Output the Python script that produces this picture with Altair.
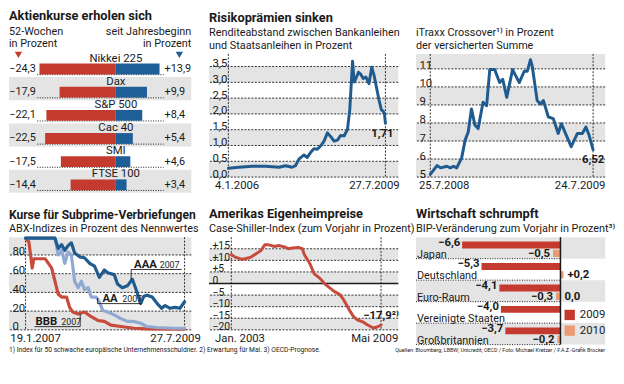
import altair as alt
import pandas as pd

FONT = "Roboto, Liberation Sans, sans-serif"
INK = "#1a1a1a"
GRAY = "#e4e4e4"
RED = "#c53a2e"
RED_LINE = "#c84a3c"
BLUE = "#1f5f98"
BLUE_LINE = "#1f5b8e"
LBLUE = "#8fa9d3"
ORANGE = "#ec9a73"
FS = 11.5

# ---------------- data ----------------
stock_names = ["Nikkei 225", "Dax", "S&P 500", "Cac 40", "SMI", "FTSE 100"]
stock_52w = [-24.3, -17.9, -22.1, -22.5, -17.5, -14.4]
stock_ytd = [13.9, 9.9, 8.4, 5.4, 4.6, 3.4]

spread_dates = ["2006-01-04", "2006-03-31", "2006-07-20", "2006-11-09", "2007-02-28", "2007-04-22",
                "2007-06-16", "2007-07-13", "2007-08-11", "2007-09-22", "2007-10-19", "2007-11-16",
                "2007-12-13", "2008-01-10", "2008-02-08", "2008-03-06", "2008-04-03", "2008-05-01",
                "2008-05-28", "2008-06-25", "2008-07-22", "2008-08-19", "2008-09-16", "2008-10-05",
                "2008-10-28", "2008-11-10", "2008-11-25", "2008-12-16", "2009-01-05", "2009-01-24",
                "2009-02-15", "2009-03-13", "2009-04-05", "2009-04-24", "2009-05-13", "2009-06-04",
                "2009-06-24", "2009-07-10", "2009-07-20", "2009-07-27"]
spread_vals = [0.28, 0.31, 0.34, 0.34, 0.31, 0.36, 0.31, 0.36, 0.57, 0.70, 0.62, 0.78, 0.90, 0.88,
               0.99, 1.14, 1.40, 1.28, 1.14, 1.17, 1.32, 1.30, 1.51, 2.13, 3.67, 3.01, 3.12, 3.32,
               3.25, 3.12, 3.17, 2.96, 3.48, 3.22, 2.86, 2.44, 2.13, 2.08, 1.97, 1.71]

itraxx_dates = ["2008-07-25", "2008-08-09", "2008-08-17", "2008-08-31", "2008-09-08", "2008-09-15",
                "2008-09-22", "2008-10-03", "2008-10-11", "2008-10-18", "2008-10-25", "2008-11-02",
                "2008-11-09", "2008-11-20", "2008-11-28", "2008-12-05", "2008-12-16", "2008-12-27",
                "2009-01-03", "2009-01-12", "2009-01-25", "2009-02-09", "2009-02-20", "2009-02-27",
                "2009-03-06", "2009-03-10", "2009-03-21", "2009-03-28", "2009-04-04", "2009-04-15",
                "2009-04-26", "2009-05-07", "2009-05-14", "2009-05-25", "2009-06-05", "2009-06-19",
                "2009-06-30", "2009-07-08", "2009-07-15", "2009-07-24"]
itraxx_vals = [5.15, 5.64, 5.51, 5.60, 5.51, 5.60, 5.51, 6.05, 7.05, 7.51, 8.78, 7.87, 7.69, 9.15,
               8.96, 10.96, 10.96, 10.24, 10.42, 9.42, 10.96, 10.24, 10.87, 10.87, 11.51, 11.15,
               9.24, 9.05, 9.24, 8.33, 8.24, 7.42, 7.96, 7.33, 6.69, 7.42, 7.42, 7.78, 7.33, 6.52]

aaa_dates = ["2007-01-19", "2007-07-08", "2007-07-27", "2007-08-16", "2007-09-03", "2007-09-22",
             "2007-10-11", "2007-10-30", "2007-11-28", "2007-12-26", "2008-01-25", "2008-02-22",
             "2008-03-21", "2008-04-19", "2008-05-08", "2008-06-15", "2008-07-04", "2008-08-01",
             "2008-08-30", "2008-09-28", "2008-10-16", "2008-11-15", "2008-12-04", "2008-12-22",
             "2009-01-21", "2009-02-19", "2009-03-17", "2009-04-06", "2009-05-04", "2009-06-02",
             "2009-06-30", "2009-07-27"]
aaa_vals = [98, 98, 87, 91, 85, 90, 93, 82, 78, 77, 71, 68, 56, 64, 61, 59, 49, 45, 47, 54, 45, 28,
            36, 37, 35, 28, 23, 26, 23, 24, 23, 30]
aa_dates = ["2007-01-19", "2007-07-08", "2007-07-27", "2007-08-16", "2007-09-03", "2007-09-22",
            "2007-10-11", "2007-10-30", "2007-11-19", "2007-12-08", "2007-12-26", "2008-01-16",
            "2008-02-03", "2008-03-03", "2008-03-21", "2008-04-09", "2008-05-08", "2008-06-15",
            "2008-07-23", "2008-08-30", "2008-10-07", "2008-11-15", "2008-12-22", "2009-02-19",
            "2009-05-24", "2009-07-27"]
aa_vals = [98, 98, 80, 85, 71, 83, 80, 52, 45, 52, 43, 45, 35, 35, 30, 21, 19, 16, 12, 9, 9, 7,
           3.5, 2.5, 1.7, 1.7]
bbb_dates = ["2007-01-19", "2007-02-07", "2007-02-17", "2007-02-26", "2007-03-08", "2007-04-04",
             "2007-05-12", "2007-05-31", "2007-06-19", "2007-07-08", "2007-07-27", "2007-08-16",
             "2007-09-13", "2007-10-01", "2007-10-20", "2007-11-19", "2007-12-26", "2008-02-03",
             "2008-03-12", "2008-04-19", "2008-05-27", "2008-07-23", "2008-10-07", "2008-12-22",
             "2009-07-27"]
bbb_vals = [98, 94, 80, 66, 76, 76, 76, 71, 66, 52, 38, 35, 35, 24, 19, 17, 19, 14, 10, 9, 5, 3.5,
            1.7, 1, 0.7]
abx_names = ["AAA", "AA", "BBB"]
abx_vintage = "2007"

cs_dates = ["2003-01-01", "2003-03-01", "2003-06-01", "2003-08-01", "2003-11-01", "2004-01-01",
            "2004-04-01", "2004-06-01", "2004-08-01", "2004-11-01", "2005-01-01", "2005-04-01",
            "2005-06-01", "2005-08-01", "2005-11-01", "2006-01-01", "2006-02-01", "2006-05-01",
            "2006-07-01", "2006-10-01", "2007-01-01", "2007-03-01", "2007-05-01", "2007-08-01",
            "2007-10-01", "2008-01-01", "2008-03-01", "2008-05-01", "2008-08-01", "2008-10-01",
            "2009-01-01", "2009-03-01", "2009-05-01"]
cs_vals = [12.5, 11.4, 10.5, 10.7, 11.4, 12.5, 14.2, 16.7, 16.7, 16.0, 16.4, 15.8, 15.0, 15.3,
           15.6, 15.0, 12.5, 8.4, 4.3, 2.2, -0.6, -1.9, -3.3, -4.7, -7.0, -11.6, -14.3, -15.7,
           -16.7, -17.8, -19.2, -18.8, -17.9]

countries = ["Japan", "Deutschland", "Euro-Raum", "Vereinigte Staaten", "Großbritannien"]
gdp_2009 = [-6.6, -5.3, -4.1, -4.0, -3.7]
gdp_2010 = [-0.5, 0.2, -0.3, 0.0, -0.2]
gdp_2010_label_row = ["Japan", "Deutschland", "Euro-Raum", "Euro-Raum", "Großbritannien"]
years = ["2009", "2010"]

foot_left = "1) Index für 50 schwache europäische Unternehmensschuldner. 2) Erwartung für Mai. 3) OECD-Prognose."
foot_right = "Quellen: Bloomberg; LBBW; Unicredit; OECD / Foto: Michael Kretzer / F.A.Z.-Grafik Brocker"

one = pd.DataFrame({"k": [0]})
FOOT_Y = 114.5


def de(v, plus=False, digits=1):
    s = f"{abs(v):.{digits}f}".replace(".", ",")
    if v < 0:
        return "\u2212" + s
    return ("+" + s) if (plus and v > 0) else s


def dt(s):
    t = pd.Timestamp(s)
    return alt.DateTime(year=t.year, month=t.month, date=t.day)


def ttl(text, sub=None, size=13):
    kw = dict(anchor="start", frame="group", font=FONT, fontSize=size, fontWeight="bold", color=INK,
              offset=3)
    if sub:
        kw.update(subtitle=sub, subtitleFont=FONT, subtitleFontSize=11, subtitleColor=INK,
                  subtitleLineHeight=12.5, subtitlePadding=2)
    return alt.TitleParams(text, **kw)


# ---------------- panel 1: stock indices ----------------
W1, H1 = 185, 141
X1 = [-34, 24]
L_LAB, R_LAB = -25, 15.2
sx1 = alt.Scale(domain=X1, nice=False, zero=False)


def XD1(v):
    return alt.XDatum(v, type="quantitative", scale=sx1, axis=None)


df1 = pd.DataFrame({"name": stock_names, "w52": stock_52w, "ytd": stock_ytd})
df1["t52"] = [de(v) for v in stock_52w]
df1["tytd"] = [de(v, plus=True) for v in stock_ytd]
df1["shade"] = [i % 2 == 1 for i in range(len(df1))]
y1 = alt.Y("name:N", sort=stock_names, scale=alt.Scale(paddingInner=0, paddingOuter=0), axis=None)
b1 = alt.Chart(df1).encode(y=y1)

p1 = alt.layer(
    b1.transform_filter("datum.shade").mark_rect(color=GRAY).encode(x=XD1(X1[0]), x2=alt.X2Datum(X1[1])),
    b1.mark_rule(color=INK, strokeDash=[1, 1.5], strokeWidth=1, yOffset=9.3).encode(
        x=XD1(L_LAB), x2=alt.X2Datum(R_LAB)),
    b1.mark_bar(color=RED, size=11, yOffset=3.6).encode(
        x=alt.X("w52:Q", scale=sx1, axis=None), x2=alt.X2Datum(0)),
    b1.mark_bar(color=BLUE, size=11, yOffset=3.6).encode(
        x=alt.X("ytd:Q", scale=sx1, axis=None), x2=alt.X2Datum(0)),
    b1.mark_text(fontSize=FS, dy=-7, color=INK).encode(x=XD1(0), text="name"),
    b1.mark_text(fontSize=11, align="right", dx=-1.5, dy=3.5, color=INK).encode(x=XD1(L_LAB), text="t52"),
    b1.mark_text(fontSize=11, align="left", dx=1, dy=3.5, color=INK).encode(x=XD1(R_LAB), text="tytd"),
    alt.Chart(one).mark_text(align="left", baseline="top", fontSize=11, lineHeight=12.5, color=INK).encode(
        x=XD1(X1[0]), y=alt.value(-28), text=alt.value(["52-Wochen", "in Prozent"])),
    alt.Chart(one).mark_text(align="right", baseline="top", fontSize=11, lineHeight=12.5, color=INK).encode(
        x=XD1(X1[1]), y=alt.value(-28), text=alt.value(["seit Jahresbeginn", "in Prozent"])),
    alt.Chart(pd.DataFrame({"x": [-31, 20.2], "c": [RED, BLUE]})).mark_point(
        shape="triangle-down", filled=True, size=55, opacity=1).encode(
        x=alt.X("x:Q", scale=sx1, axis=None), y=alt.value(1), color=alt.Color("c:N", scale=None)),
).properties(width=W1, height=H1, title=ttl("Aktienkurse erholen sich"))


# ---------------- line panels ----------------
def line_panel(series, xdom, ydom, bands, yticks, ylab_expr, xlabels, flush_off, w, h,
               title, subtitle, end_label=None, zero_line=False, extra=None, title_size=13,
               ylab_size=FS):
    x_ends = (series[0][0][0], series[0][0][-1])
    xs = alt.Scale(domain=[dt(xdom[0]), dt(xdom[1])])
    ys = alt.Scale(domain=list(ydom), nice=False, zero=False)
    xax = alt.Axis(values=[dt(x_ends[0]), dt(x_ends[1])],
                   labelExpr=f"datum.index < 0.5 ? '{xlabels[0]}' : '{xlabels[1]}'",
                   labelFlush=w, labelFlushOffset=flush_off, labelOverlap=False,
                   domain=False, ticks=False, tickSize=0, grid=False, labelPadding=3,
                   labelFontSize=FS, labelColor=INK, labelFont=FONT, title=None, zindex=1)
    yax = alt.Axis(values=list(yticks), labelExpr=ylab_expr, labelAlign="left",
                   labelBaseline="alphabetic", labelPadding=-3, labelFlush=False,
                   labelOverlap=False, domain=False, ticks=False, tickSize=0, grid=False,
                   labelFontSize=ylab_size, labelColor=INK, labelFont=FONT, title=None, zindex=1)

    def X(f):
        return alt.X(f, scale=xs, axis=xax)

    def Y(f):
        return alt.Y(f, scale=ys, axis=yax)

    bdf = pd.DataFrame({"lo": [b[0] for b in bands], "hi": [b[1] for b in bands]})
    bdf["x0"] = pd.Timestamp(xdom[0])
    bdf["x1"] = pd.Timestamp(xdom[1])
    layers = [alt.Chart(bdf).mark_rect(color=GRAY).encode(x=X("x0:T"), x2="x1", y=Y("lo:Q"), y2="hi")]
    layers.append(alt.Chart(pd.DataFrame({"t": list(yticks)})).mark_rule(
        color=INK, strokeDash=[2, 1.5], strokeWidth=0.9).encode(y=Y("t:Q")))
    layers.append(alt.Chart(pd.DataFrame({"d": pd.to_datetime(list(x_ends))})).mark_rule(
        color=INK, strokeDash=[2, 1.5], strokeWidth=0.9).encode(x=X("d:T")))
    if zero_line:
        layers.append(alt.Chart(one).mark_rule(color=INK, strokeWidth=1.6).encode(
            y=alt.YDatum(0, type="quantitative", scale=ys, axis=yax)))
    for dates, vals, color, sw in series:
        sdf = pd.DataFrame({"d": pd.to_datetime(dates), "v": vals})
        layers.append(alt.Chart(sdf).mark_line(color=color, strokeWidth=sw, strokeJoin="round",
                                               strokeCap="round").encode(x=X("d:T"), y=Y("v:Q")))
    if extra is not None:
        layers.extend(extra(X, Y))
    if end_label is not None:
        text, dx, dy = end_label
        dates, vals = series[-1][0], series[-1][1]
        edf = pd.DataFrame({"d": [pd.Timestamp(dates[-1])], "v": [vals[-1]], "t": [text]})
        layers.append(alt.Chart(edf).mark_text(fontWeight="bold", fontSize=FS, dx=dx, dy=dy,
                                               color=INK).encode(x=X("d:T"), y=Y("v:Q"), text="t"))
    return alt.layer(*layers).properties(width=w, height=h, title=ttl(title, subtitle, title_size))


p2 = line_panel([(spread_dates, spread_vals, BLUE_LINE, 3)],
                ("2005-07-28", "2009-11-10"), (0, 3.9),
                [(0, 0.5), (1, 1.5), (2, 2.5), (3, 3.5)],
                [0, 0.5, 1, 1.5, 2, 2.5, 3, 3.5],
                "replace(format(datum.value, '.1f'), '.', ',')",
                ["4.1.2006", "27.7.2009"], 14, 192, 125,
                "Risikoprämien sinken",
                ["Renditeabstand zwischen Bankanleihen", "und Staatsanleihen in Prozent"],
                end_label=(de(spread_vals[-1], digits=2), -3, 11))

p3 = line_panel([(itraxx_dates, itraxx_vals, BLUE_LINE, 3)],
                ("2008-06-23", "2009-08-20"), (5, 11.83),
                [(5, 6), (7, 8), (9, 10), (11, 11.83)],
                [5, 6, 7, 8, 9, 10, 11],
                "datum.label",
                ["25.7.2008", "24.7.2009"], 12, 192, 125,
                " ",
                ["iTraxx Crossover¹⁾ in Prozent", "der versicherten Summe"],
                end_label=(de(itraxx_vals[-1], digits=2), 0, 11))

abx_lab_dates = ["2008-10-08", "2008-04-08", "2007-03-17"]
abx_year_dates = ["2009-03-05", "2008-07-31", "2007-08-13"]
abx_lab_vals = [66.5, 30, 5.2]
abx_seg = pd.DataFrame({
    "x": pd.to_datetime(["2008-09-21", "2008-09-21", "2008-03-11", "2008-03-11", "2007-03-12", "2007-12-01"]),
    "x2": pd.to_datetime(["2009-07-10", "2008-09-21", "2008-11-20", "2008-03-11", "2007-12-01", "2007-12-01"]),
    "y": [64.5, 64.5, 28, 28, 3.4, 3.4],
    "y2": [64.5, 53, 28, 34, 3.4, 17],
})


def abx_extra(X, Y):
    tdf = pd.DataFrame({"d": pd.to_datetime(abx_lab_dates), "v": abx_lab_vals, "t": abx_names})
    ydf = pd.DataFrame({"d": pd.to_datetime(abx_year_dates), "v": abx_lab_vals, "t": [abx_vintage] * 3})
    return [
        alt.Chart(abx_seg).mark_rule(color=INK, strokeWidth=0.9).encode(
            x=X("x:T"), x2="x2", y=Y("y:Q"), y2="y2"),
        alt.Chart(tdf).mark_text(align="left", baseline="alphabetic", fontWeight="bold",
                                 fontSize=11.5, color=INK).encode(x=X("d:T"), y=Y("v:Q"), text="t"),
        alt.Chart(ydf).mark_text(align="left", baseline="alphabetic", fontSize=9,
                                 color=INK).encode(x=X("d:T"), y=Y("v:Q"), text="t"),
        alt.Chart(one).mark_text(align="left", fontSize=6.8, color=INK).encode(
            x=alt.value(0), y=alt.value(FOOT_Y), text=alt.value(foot_left)),
    ]


p4 = line_panel([(bbb_dates, bbb_vals, RED_LINE, 3.2), (aa_dates, aa_vals, LBLUE, 3.2),
                 (aaa_dates, aaa_vals, BLUE_LINE, 3.2)],
                ("2006-10-15", "2009-09-04"), (0, 99),
                [(0, 20), (40, 60), (80, 99)],
                [0, 20, 40, 60, 80],
                "datum.label",
                ["19.1.2007", "27.7.2009"], 16, 185, 94,
                "Kurse für Subprime-Verbriefungen",
                ["ABX-Indizes in Prozent des Nennwertes"],
                extra=abx_extra, title_size=12.2)

p5 = line_panel([(cs_dates, cs_vals, RED_LINE, 3)],
                ("2002-01-22", "2010-01-21"), (-20, 20),
                [(-20, -15), (-10, -5), (0, 5), (10, 15)],
                [-20, -15, -10, -5, 0, 5, 10, 15],
                "datum.value > 0 ? '+' + datum.value : (datum.value < 0 ? '\u2212' + abs(datum.value) : '0')",
                ["Jan. 2003", "Mai 2009"], 17, 192, 94,
                "Amerikas Eigenheimpreise",
                ["Case-Shiller-Index (zum Vorjahr in Prozent)"],
                end_label=(de(cs_vals[-1]) + "²⁾", 0, -9), zero_line=True, ylab_size=10.5)

# ---------------- panel 6: GDP ----------------
W6, H6 = 192, 109
X6 = [-9.7, 3.0]
sx6 = alt.Scale(domain=X6, nice=False, zero=False)
sy6 = alt.Scale(domain=countries, paddingInner=0, paddingOuter=0)


def XD6(v):
    return alt.XDatum(v, type="quantitative", scale=sx6, axis=None)


def Y6(f):
    return alt.Y(f + ":N", scale=sy6, axis=None)


df6 = pd.DataFrame({"c": countries, "v09": gdp_2009, "v10": gdp_2010, "lrow": gdp_2010_label_row})
df6["t09"] = [de(v) for v in gdp_2009]
df6["t10"] = [de(v, plus=True) for v in gdp_2010]
df6["shade"] = [i % 2 == 0 for i in range(len(df6))]
df6["neg"] = [v < 0 for v in gdp_2010]
b6 = alt.Chart(df6)
leg = pd.DataFrame({"row": ["Vereinigte Staaten", "Großbritannien"], "y": years, "c": [RED, ORANGE]})

p6 = alt.layer(
    b6.transform_filter("datum.shade").mark_rect(color=GRAY).encode(
        x=XD6(X6[0]), x2=alt.X2Datum(X6[1]), y=Y6("c")),
    b6.mark_rule(color=INK, strokeDash=[1, 1.5], strokeWidth=1, yOffset=10.9).encode(
        x=XD6(X6[0]), x2=alt.X2Datum(0), y=Y6("c")),
    b6.mark_bar(color=RED, size=7, yOffset=-3).encode(
        x=alt.X("v09:Q", scale=sx6, axis=None), x2=alt.X2Datum(0), y=Y6("c")),
    b6.mark_bar(color=ORANGE, size=7.5, yOffset=5.5).encode(
        x=alt.X("v10:Q", scale=sx6, axis=None), x2=alt.X2Datum(0), y=Y6("c")),
    alt.Chart(one).mark_rule(color=INK, strokeWidth=1.5).encode(x=XD6(0)),
    b6.mark_text(align="left", baseline="alphabetic", fontSize=11, dx=1, dy=9.8, color=INK).encode(
        x=XD6(X6[0]), y=Y6("c"), text="c"),
    b6.mark_text(align="right", fontWeight="bold", fontSize=FS, dx=-2, dy=-5, color=INK).encode(
        x=alt.X("v09:Q", scale=sx6, axis=None), y=Y6("c"), text="t09"),
    b6.transform_filter("datum.neg").mark_text(align="right", fontWeight="bold", fontSize=FS,
                                               dx=-3, dy=6, color=INK).encode(
        x=alt.X("v10:Q", scale=sx6, axis=None), y=Y6("lrow"), text="t10"),
    b6.transform_filter("!datum.neg").mark_text(align="left", fontWeight="bold", fontSize=FS,
                                                dx=4, dy=6, color=INK).encode(
        x=alt.X("v10:Q", scale=sx6, axis=None), y=Y6("lrow"), text="t10"),
    alt.Chart(leg).transform_filter("datum.y == '2009'").mark_square(size=110, opacity=1, yOffset=2.6).encode(
        x=XD6(0.62), y=Y6("row"), color=alt.Color("c:N", scale=None)),
    alt.Chart(leg).transform_filter("datum.y == '2010'").mark_square(size=110, opacity=1, yOffset=-3.3).encode(
        x=XD6(0.62), y=Y6("row"), color=alt.Color("c:N", scale=None)),
    alt.Chart(leg).transform_filter("datum.y == '2009'").mark_text(align="left", fontSize=FS, dy=2.6, color=INK).encode(
        x=XD6(1.3), y=Y6("row"), text="y:N"),
    alt.Chart(leg).transform_filter("datum.y == '2010'").mark_text(align="left", fontSize=FS, dy=-3.3, color=INK).encode(
        x=XD6(1.3), y=Y6("row"), text="y:N"),
    alt.Chart(one).mark_text(align="right", fontSize=5.4, color=INK).encode(
        x=alt.value(W6), y=alt.value(FOOT_Y), text=alt.value(foot_right)),
).properties(width=W6, height=H6,
             title=ttl("Wirtschaft schrumpft", ["BIP-Veränderung zum Vorjahr in Prozent³⁾"]))

chart = alt.concat(p1, p2, p3, p4, p5, p6, columns=3, bounds="flush", align="each",
                   spacing={"row": 45, "column": 18}).properties(
    padding=0, background="white").configure(font=FONT).configure_view(stroke=None)

chart.save("out.html", embed_options={"renderer": "svg", "actions": False})
